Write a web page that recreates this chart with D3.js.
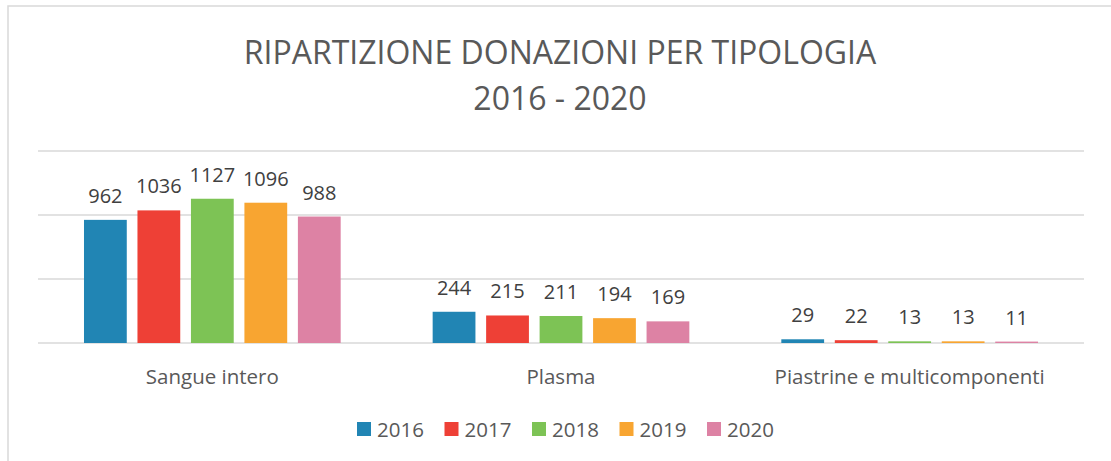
<!DOCTYPE html>
<html>
<head>
    <meta charset="utf-8" />
    <title>Ripartizione donazioni per tipologia</title>
    <style>
        html, body { margin: 0; padding: 0; background: #fff; }
        svg { display: block; font-family: "Open Sans", "Noto Sans", sans-serif; }
    </style>
</head>
<body>
    <div id="chart"></div>
    <script src="https://cdn.jsdelivr.net/npm/d3@7"></script>
    <script>
        // data
        var categories = ["Sangue intero", "Plasma", "Piastrine e multicomponenti"];
        var years = ["2016", "2017", "2018", "2019", "2020"];
        var v2016 = [962, 244, 29];
        var v2017 = [1036, 215, 22];
        var v2018 = [1127, 211, 13];
        var v2019 = [1096, 194, 13];
        var v2020 = [988, 169, 11];
        var yTicks = [0, 500, 1000, 1500];
        var colors = ["#2185b4", "#ee4036", "#7dc355", "#f8a531", "#dd82a4"];

        var series = [v2016, v2017, v2018, v2019, v2020];
        var rows = categories.map((c, i) => ({
            name: c,
            values: years.map((y, j) => ({ year: y, value: series[j][i] }))
        }));

        var width = 1111, height = 461;

        var svg = d3.select("#chart").append("svg")
            .attr("width", width)
            .attr("height", height);

        // chart frame (right/bottom edges fall outside the picture)
        svg.append("rect")
            .attr("x", 8).attr("y", 6)
            .attr("width", 1110).attr("height", 460)
            .attr("fill", "none")
            .attr("stroke", "#d9d9d9")
            .attr("stroke-width", 1.5);

        // title
        var title = svg.append("text")
            .attr("text-anchor", "middle")
            .attr("fill", "#595959")
            .attr("font-size", 32);
        title.append("tspan").attr("x", 560).attr("y", 64).text("RIPARTIZIONE DONAZIONI PER TIPOLOGIA");
        title.append("tspan").attr("x", 560).attr("y", 110).text("2016 - 2020");

        var x0 = d3.scaleBand()
            .domain(categories)
            .range([38, 1084])
            .padding(0);

        var x1 = d3.scaleBand()
            .domain(years)
            .range([0, x0.bandwidth()])
            .paddingInner(0.2)
            .paddingOuter(0.86);

        var y = d3.scaleLinear()
            .domain([0, 1500])
            .range([343, 151]);

        var color = d3.scaleOrdinal().domain(years).range(colors);

        // gridlines
        svg.append("g")
            .selectAll("line")
            .data(yTicks)
            .join("line")
            .attr("x1", 38).attr("x2", 1084)
            .attr("y1", d => y(d)).attr("y2", d => y(d))
            .attr("stroke", "#d9d9d9")
            .attr("stroke-width", 1.5);

        var groups = svg.append("g")
            .selectAll("g")
            .data(rows)
            .join("g")
            .attr("transform", d => `translate(${x0(d.name)},0)`);

        groups.selectAll("rect")
            .data(d => d.values)
            .join("rect")
            .attr("x", d => x1(d.year))
            .attr("y", d => y(d.value))
            .attr("width", x1.bandwidth())
            .attr("height", d => y(0) - y(d.value))
            .attr("fill", d => color(d.year));

        groups.selectAll("text")
            .data(d => d.values)
            .join("text")
            .attr("x", d => x1(d.year) + x1.bandwidth() / 2)
            .attr("y", d => y(d.value) - 17)
            .attr("text-anchor", "middle")
            .attr("font-size", 20)
            .attr("fill", "#404040")
            .text(d => d.value);

        // category labels
        svg.append("g")
            .selectAll("text")
            .data(categories)
            .join("text")
            .attr("x", d => x0(d) + x0.bandwidth() / 2)
            .attr("y", 384)
            .attr("text-anchor", "middle")
            .attr("font-size", 20.5)
            .attr("fill", "#595959")
            .text(d => d);

        // legend
        var legend = svg.append("g")
            .selectAll("g")
            .data(years)
            .join("g")
            .attr("transform", (d, i) => `translate(${357 + i * 87.5},422)`);

        legend.append("rect")
            .attr("width", 14).attr("height", 14)
            .attr("fill", d => color(d));

        legend.append("text")
            .attr("x", 20).attr("y", 14.5)
            .attr("font-size", 20.5)
            .attr("fill", "#595959")
            .text(d => d);
    </script>
</body>
</html>
